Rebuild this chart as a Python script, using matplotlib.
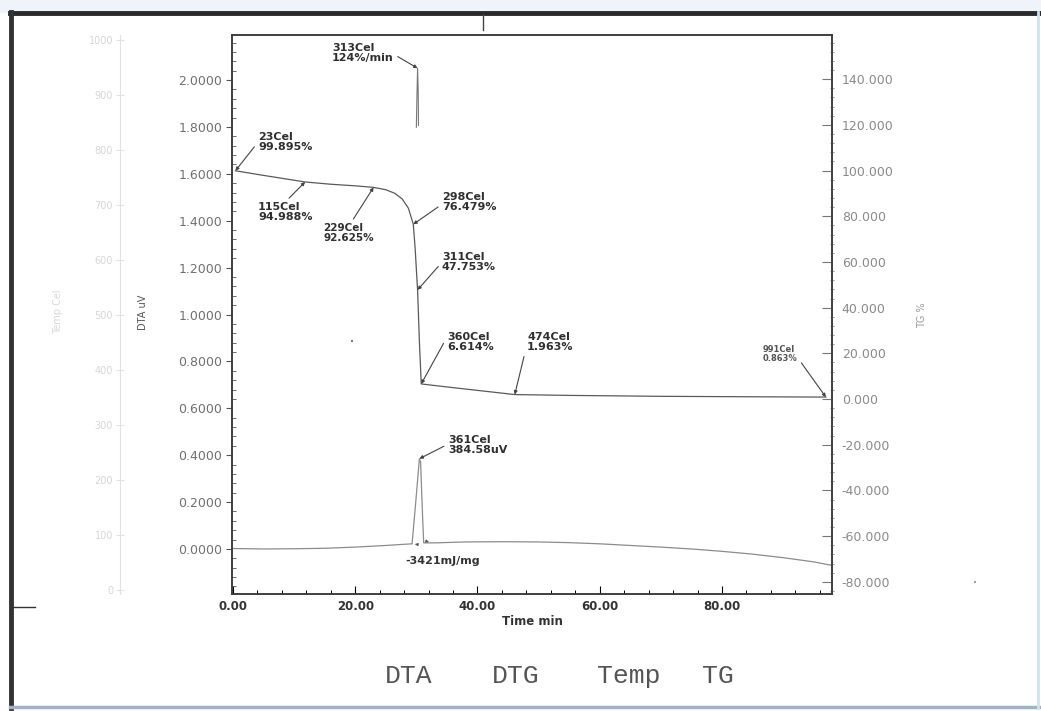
import numpy as np
import matplotlib.pyplot as plt
from matplotlib.lines import Line2D
from matplotlib.patches import Rectangle
from matplotlib.ticker import MultipleLocator, FormatStrFormatter

# --- data ---
# TG curve, mass % vs time (min)
tg_time = [0.4, 4.0, 8.0, 11.8, 16.0, 20.0, 23.0, 25.0, 26.5, 27.7, 28.7, 29.5,
           29.8, 30.2, 30.5, 30.8, 35.0, 40.0, 46.1, 55.0, 70.0, 85.0, 97.0]
tg_mass = [99.895, 98.3, 96.6, 94.988, 94.0, 93.3, 92.625, 91.6, 90.0, 87.5, 83.5, 76.479,
           66.0, 47.753, 25.0, 6.614, 5.3, 3.8, 1.963, 1.6, 1.2, 1.0, 0.863]

# DTA curve
dta_time = [0.0, 5.0, 10.0, 15.0, 20.0, 25.0, 28.0, 29.3, 29.9, 30.5, 30.7, 31.0, 31.2,
            33.0, 38.0, 44.0, 50.0, 55.0, 60.0, 65.0, 70.0, 75.0, 80.0, 85.0, 90.0, 95.0, 98.0]
dta_uv = [0.002, 0.0, 0.001, 0.003, 0.008, 0.015, 0.02, 0.022, 0.2, 0.385, 0.37, 0.15, 0.026,
          0.026, 0.03, 0.031, 0.03, 0.027, 0.022, 0.015, 0.008, 0.0, -0.01, -0.022, -0.037, -0.055, -0.07]

# DTG (only the peak came out on the scan)
dtg_time = [30.0, 30.1, 30.2, 30.3, 30.35]
dtg_rate = [60, 95, 124, 100, 62]

# marked points
tg_labels = ["23Cel\n99.895%", "115Cel\n94.988%", "229Cel\n92.625%", "298Cel\n76.479%",
             "311Cel\n47.753%", "360Cel\n6.614%", "474Cel\n1.963%", "991Cel\n0.863%"]
tg_mark_time = [0.4, 11.8, 23.0, 29.5, 30.2, 30.8, 46.1, 97.0]
tg_mark_mass = [99.895, 94.988, 92.625, 76.479, 47.753, 6.614, 1.963, 0.863]

dta_peak_label = "361Cel\n384.58uV"
dta_peak = (30.5, 0.385)
peak_area = "-3421mJ/mg"
peak_bounds = [29.3, 32.5]

dtg_peak_label = "313Cel\n124%/min"
dtg_peak = (30.2, 124)

legend_labels = ["DTA", "DTG", "Temp", "TG"]

# --- layout (pixels) ---
W, H = 1041, 711
L, R, T, B = 232, 832, 35, 594

fig = plt.figure(figsize=(W / 100, H / 100), dpi=100)
fig.patch.set_facecolor('white')
fig.patches.append(Rectangle((0, 1 - 12 / H), 1, 12 / H, transform=fig.transFigure,
                             color='#eef4f9', zorder=0))

ax = fig.add_axes([L / W, 1 - B / H, (R - L) / W, (B - T) / H])
ax.set_xlim(-0.16, 98.0)
ax.set_ylim(-0.192, 2.192)
for s in ax.spines.values():
    s.set_color('#3a3a3a')
    s.set_linewidth(1.1)

ax.xaxis.set_major_locator(MultipleLocator(20))
ax.xaxis.set_minor_locator(MultipleLocator(4))
ax.xaxis.set_major_formatter(FormatStrFormatter('%.2f'))
ax.tick_params(axis='x', which='major', direction='in', length=6, width=0.8,
               labelsize=8.5, labelcolor='#333333', pad=4)
ax.tick_params(axis='x', which='minor', direction='in', length=3, width=0.7)
for lab in ax.get_xticklabels():
    lab.set_fontweight('bold')
ax.set_xlabel('Time min', fontsize=8.5, fontweight='bold', color='#333333', labelpad=2)

ax.yaxis.set_major_locator(MultipleLocator(0.2))
ax.yaxis.set_minor_locator(MultipleLocator(0.04))
ax.yaxis.set_major_formatter(FormatStrFormatter('%.4f'))
ax.tick_params(axis='y', which='major', direction='out', length=4, width=0.8,
               labelsize=9, labelcolor='#707070', color='#555555', pad=3)
ax.tick_params(axis='y', which='minor', direction='in', length=3, width=0.6, color='#555555')

# TG axis (right)
ax2 = ax.twinx()
ax2.set_ylim(-85.3, 159.3)
for s in ax2.spines.values():
    s.set_color('#3a3a3a')
    s.set_linewidth(1.1)
ax2.yaxis.set_major_locator(MultipleLocator(20))
ax2.yaxis.set_minor_locator(MultipleLocator(4))
ax2.yaxis.set_major_formatter(FormatStrFormatter('%.3f'))
ax2.tick_params(axis='y', which='major', direction='in', length=7, width=0.8,
                labelsize=9, labelcolor='#8a8a8a', color='#777777', pad=7)
ax2.tick_params(axis='y', which='minor', direction='inout', length=3, width=0.6, color='#888888')

# DTG axis (hidden)
ax3 = ax.twinx()
ax3.set_ylim(-446, 160)
ax3.set_axis_off()

# Temp axis (faint, far left)
ax4 = ax.twinx()
ax4.set_ylim(-7.3, 1009)
for name in ['right', 'top', 'bottom']:
    ax4.spines[name].set_visible(False)
ax4.spines['left'].set_visible(True)
ax4.spines['left'].set_position(('outward', (L - 120) * 0.72))
ax4.spines['left'].set_color('#e2e2e2')
ax4.yaxis.set_ticks_position('left')
ax4.yaxis.set_major_locator(MultipleLocator(100))
ax4.tick_params(axis='y', direction='inout', length=6, width=0.8, color='#e2e2e2',
                labelsize=7, labelcolor='#d6d6d6', pad=2)

# curves
ax2.plot(tg_time, tg_mass, color='#5a5a5a', lw=0.9)
ax.plot(dta_time, dta_uv, color='#8c8c8c', lw=0.9)
ax3.plot(dtg_time, dtg_rate, color='#777777', lw=0.8)

def note(a, text, xy, tpos, rel, size=8, color='#303030'):
    a.annotate(text, xy=xy, xycoords='data', xytext=(tpos[0], H - tpos[1]),
               textcoords='figure pixels', ha='left', va='top', fontsize=size,
               fontweight='bold', color=color, linespacing=1.05,
               arrowprops=dict(arrowstyle='-|>', color='#444444', lw=0.8,
                               mutation_scale=5, relpos=rel, shrinkA=1, shrinkB=0))

tg_text_pos = [(258, 132), (258, 202), (323, 223), (442, 192), (442, 252),
               (447, 332), (527, 332), (763, 345)]
tg_rel = [(0, 0.5), (0.5, 1), (0.55, 1), (0, 0.4), (0, 0.5), (0, 0.75), (0, 0.4), (1, 0.3)]
tg_size = [8, 8, 7.5, 8, 8, 8, 8, 6]
for lab, t, m, p, r, sz in zip(tg_labels, tg_mark_time, tg_mark_mass, tg_text_pos, tg_rel, tg_size):
    note(ax2, lab, (t, m), p, r, size=sz, color='#555555' if sz < 7 else '#303030')

note(ax, dta_peak_label, dta_peak, (448, 435), (0, 0.55))
note(ax3, dtg_peak_label, dtg_peak, (332, 43), (1, 0.45))

# peak area and its limits
fig.text(443 / W, 1 - 561 / H, peak_area, ha='center', va='center', fontsize=8,
         fontweight='bold', color='#333333')
base = np.interp(peak_bounds, dta_time, dta_uv)
ax.annotate('', xy=(peak_bounds[0], base[0]), xytext=(peak_bounds[0] + 1.2, base[0] - 0.004),
            arrowprops=dict(arrowstyle='-|>', color='#555555', lw=0.7, mutation_scale=4))
ax.annotate('', xy=(peak_bounds[1], base[1]), xytext=(peak_bounds[1] - 1.2, base[1] + 0.01),
            arrowprops=dict(arrowstyle='-|>', color='#555555', lw=0.7, mutation_scale=4))

# axis titles
fig.text(143 / W, 1 - 312 / H, 'DTA uV', rotation=90, ha='center', va='center',
         fontsize=7, color='#555555')
fig.text(58 / W, 1 - 312 / H, 'Temp Cel', rotation=90, ha='center', va='center',
         fontsize=7, color='#d8d8d8')
fig.text(922 / W, 1 - 315 / H, 'TG %', rotation=90, ha='center', va='center',
         fontsize=7, color='#9a9a9a')

# legend names in the footer
for lab, xc in zip(legend_labels, [409, 516, 629, 718]):
    fig.text(xc / W, 1 - 676 / H, lab, ha='center', va='center', fontsize=19,
             family='Liberation Mono', color='#555555')

# scan frame and specks
fig.add_artist(Line2D([10 / W, 1], [1 - 13 / H] * 2, color='#2a2a2a', lw=3.5))
fig.add_artist(Line2D([11 / W] * 2, [1 - 12 / H, 1 - 708 / H], color='#333333', lw=3.5))
fig.add_artist(Line2D([10 / W, 1], [1 - 707 / H] * 2, color='#9fb3c8', lw=2.5))
fig.add_artist(Line2D([1038 / W] * 2, [1 - 12 / H, 1 - 708 / H], color='#cfe3ee', lw=2))
fig.add_artist(Line2D([483 / W] * 2, [1 - 14 / H, 1 - 30 / H], color='#444444', lw=1))
fig.add_artist(Line2D([11 / W, 35 / W], [1 - 607 / H] * 2, color='#333333', lw=1))
fig.text(352 / W, 1 - 342 / H, '\u2022', ha='center', va='center', fontsize=5, color='#555555')
fig.text(975 / W, 1 - 583 / H, '\u2022', ha='center', va='center', fontsize=5, color='#888888')

fig.savefig('out.png', dpi=100, facecolor=fig.get_facecolor())
